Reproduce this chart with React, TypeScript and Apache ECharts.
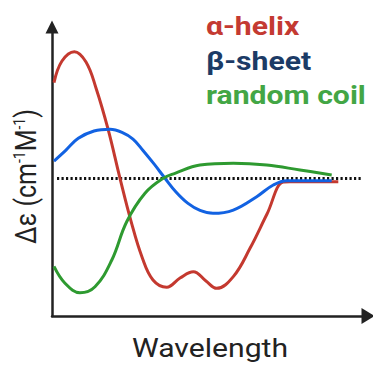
import React, { useEffect, useRef } from 'react';
import * as echarts from 'echarts';

// x: arbitrary wavelength units (0–100), y: arbitrary Δε units
const helixX = [0.63, 3.16, 7.06, 10.76, 13.92, 17.72, 21.52, 25.0, 28.48, 31.96, 36.3, 40.51, 44.72, 48.73, 52.12, 57.37, 62.66, 68.04, 73.2, 75.32, 90.6];
const helixY = [6.96, 8.53, 9.21, 8.46, 6.57, 3.59, 0, -3.1, -5.71, -7.38, -7.91, -7.24, -6.78, -7.46, -7.99, -7.14, -5.08, -2.59, -0.26, -0.24, -0.24];

const sheetX = [0.63, 4.43, 8.32, 13.29, 18.35, 22.15, 25.63, 28.8, 32.28, 35.76, 39.24, 43.04, 46.84, 50.95, 57.37, 64.78, 70.03, 74.27, 78.48, 88.51];
const sheetY = [1.26, 2.06, 2.91, 3.44, 3.57, 3.35, 2.86, 2.03, 1.05, 0.01, -0.99, -1.82, -2.33, -2.54, -2.3, -1.33, -0.48, -0.17, -0.17, -0.17];

const coilX = [0.63, 4.11, 8.86, 13.61, 18.89, 23.64, 29.43, 35.22, 38.92, 46.84, 57.37, 67.94, 78.48, 88.51];
const coilY = [-6.4, -7.62, -8.31, -7.87, -5.95, -3.15, -1.08, 0.01, 0.37, 0.97, 1.1, 0.97, 0.61, 0.25];

const zeroX = [1.58, 98.4];
const zeroY = [0, 0];

const legendNames = ['α-helix', 'β-sheet', 'random coil'];
const legendColors = ['#c43a32', '#1c3b66', '#43a645'];
const lineColors = ['#c4392f', '#1262e2', '#2e9a30'];

const zip = (xs: number[], ys: number[]) => xs.map((x, i) => [x, ys[i]]);

export default function App() {
  const ref = useRef<HTMLDivElement>(null);
  useEffect(() => {
    if (!ref.current) return;
    const chart = echarts.init(ref.current, null, { renderer: 'svg' });
    const font = 'Roboto';
    const stretch = 1.16;
    const legendBaselines = [35.5, 70, 104];
    const legendFs = 26;
    chart.setOption({
      animation: false,
      backgroundColor: '#ffffff',
      grid: { left: 52, right: 5, top: 27, bottom: 49 },
      xAxis: {
        type: 'value',
        min: 0,
        max: 100,
        axisLine: {
          show: true,
          onZero: false,
          symbol: ['none', 'triangle'],
          symbolSize: [16, 13],
          lineStyle: { color: '#222', width: 2.5 },
        },
        axisTick: { show: false },
        axisLabel: { show: false },
        splitLine: { show: false },
      },
      yAxis: {
        type: 'value',
        min: -10,
        max: 11,
        axisLine: {
          show: true,
          onZero: false,
          symbol: ['none', 'triangle'],
          symbolSize: [13, 13],
          lineStyle: { color: '#222', width: 2.5 },
        },
        axisTick: { show: false },
        axisLabel: { show: false },
        splitLine: { show: false },
      },
      series: [
        {
          name: 'zero',
          type: 'line',
          data: zip(zeroX, zeroY),
          showSymbol: false,
          lineStyle: { color: '#111', width: 3, type: [2.2, 2.3] },
          z: 1,
        },
        {
          name: legendNames[0],
          type: 'line',
          data: zip(helixX, helixY),
          smooth: 0.4,
          showSymbol: false,
          lineStyle: { color: lineColors[0], width: 3 },
          z: 2,
        },
        {
          name: legendNames[1],
          type: 'line',
          data: zip(sheetX, sheetY),
          smooth: 0.4,
          showSymbol: false,
          lineStyle: { color: lineColors[1], width: 3 },
          z: 3,
        },
        {
          name: legendNames[2],
          type: 'line',
          data: zip(coilX, coilY),
          smooth: 0.4,
          showSymbol: false,
          lineStyle: { color: lineColors[2], width: 3 },
          z: 4,
        },
      ],
      graphic: [
        ...legendNames.map((name, i) => ({
          type: 'text',
          x: 206,
          y: legendBaselines[i] - 0.342 * legendFs,
          scaleX: stretch,
          style: {
            text: name,
            fill: legendColors[i],
            font: `bold ${legendFs}px ${font}`,
            align: 'left',
            verticalAlign: 'middle',
          },
        })),
        {
          type: 'text',
          x: 210,
          y: 356.7 - 0.342 * 26,
          scaleX: stretch,
          style: {
            text: 'Wavelength',
            fill: '#222',
            font: `26px ${font}`,
            align: 'center',
            verticalAlign: 'middle',
          },
        },
        {
          type: 'text',
          x: 26.4,
          y: 176.5,
          rotation: Math.PI / 2,
          scaleY: stretch,
          style: {
            text: '{n|Δε (cm}{s|-1}{n|M}{s|-1}{n|)}',
            align: 'center',
            verticalAlign: 'middle',
            rich: {
              n: { fontSize: 25, fontFamily: font, fill: '#222', color: '#222' },
              s: { fontSize: 14, fontFamily: font, fill: '#222', color: '#222', verticalAlign: 'top' },
            },
          },
        },
      ],
    });
    return () => chart.dispose();
  }, []);
  return (
    <div
      ref={ref}
      style={{ position: 'fixed', left: 0, top: 0, width: 373, height: 365, background: '#fff' }}
    />
  );
}
